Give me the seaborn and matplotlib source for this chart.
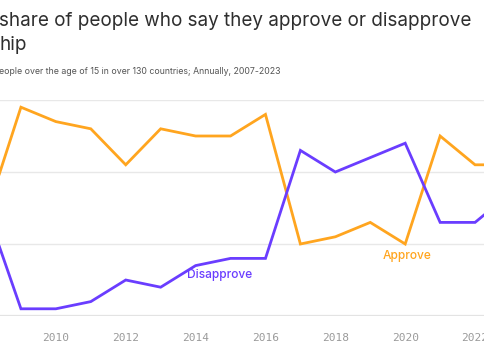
import matplotlib
matplotlib.use("Agg")
import matplotlib.pyplot as plt
import seaborn as sns
import pandas as pd

# ---- data (median share, %) ----
years = [2008, 2009, 2010, 2011, 2012, 2013, 2014, 2015, 2016,
         2017, 2018, 2019, 2020, 2021, 2022, 2023]
approve = [34, 49, 47, 46, 41, 46, 45, 45, 48, 30, 31, 33, 30, 45, 41, 41]
disapprove = [35, 21, 21, 22, 25, 24, 27, 28, 28, 43, 40, 42, 44, 33, 33, 37]
x_ticks = [2010, 2012, 2014, 2016, 2018, 2020, 2022]
y_grid = [20, 30, 40, 50]

ORANGE = "#FFA51F"
PURPLE = "#6A3DFF"

df = pd.DataFrame({"year": years * 2,
                   "value": approve + disapprove,
                   "series": ["Approve"] * len(years) + ["Disapprove"] * len(years)})

sns.set_theme(style="white")
plt.rcParams["font.family"] = ["Inter", "DejaVu Sans"]

W, H = 485, 360
fig = plt.figure(figsize=(W / 100, H / 100), dpi=100)

# axes deliberately run past the canvas edges, as in the cropped reference
x0, x1 = -14, 510
y_top, y_bot = 100, 316
ax = fig.add_axes([x0 / W, (H - y_bot) / H, (x1 - x0) / W, (y_bot - y_top) / H])

sns.lineplot(data=df, x="year", y="value", hue="series",
             palette={"Approve": ORANGE, "Disapprove": PURPLE},
             linewidth=2, legend=False, ax=ax)
for line in ax.lines:
    line.set_clip_on(False)
    line.set_solid_joinstyle("miter")

ax.set_xlim(2008, 2023)
ax.set_ylim(20, 50)
ax.set_xticks(x_ticks)
ax.set_yticks(y_grid)
ax.set_yticklabels([])
ax.set_xlabel("")
ax.set_ylabel("")
for s in ax.spines.values():
    s.set_visible(False)
ax.grid(axis="y", color="#E8E8E8", linewidth=1)
ax.axhline(20, color="#E3E3E3", linewidth=1.6, zorder=0.5)
ax.tick_params(axis="x", length=9, width=1, color="#EBEBEB", pad=3,
               labelsize=8, labelcolor="#9A9A9A")
ax.tick_params(axis="y", length=0)
for t in ax.get_xticklabels():
    t.set_fontfamily("DejaVu Sans Mono")

# direct labels
ax.text(2020.05, 28.3, "Approve", color=ORANGE, fontsize=8.6,
        fontweight="medium", ha="center", va="center")
ax.text(2014.7, 25.7, "Disapprove", color=PURPLE, fontsize=8.6,
        fontweight="medium", ha="center", va="center")

# title / subtitle (left part is cropped in the reference)
fig.text(-0.002, 1 - 21 / H, "share of people who say they approve or disapprove",
         fontsize=13.6, color="#2E2E2E", ha="left", va="center")
fig.text(-0.002, 1 - 45 / H, "hip", fontsize=13.6, color="#2E2E2E",
         ha="left", va="center")
fig.text(-0.002, 1 - 71 / H,
         "eople over the age of 15 in over 130 countries; Annually, 2007-2023",
         fontsize=6.3, color="#555555", ha="left", va="center")

fig.savefig("out.png", dpi=100)
